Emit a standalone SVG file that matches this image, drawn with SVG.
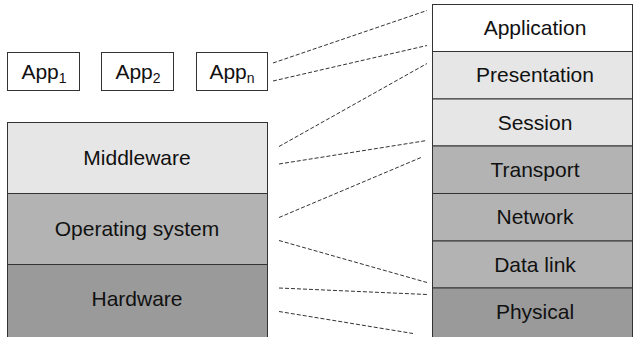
<svg xmlns="http://www.w3.org/2000/svg" width="633" height="337" viewBox="0 0 633 337">
<style>
.box{stroke:#333;stroke-width:1}
.w{fill:#fff}.l{fill:#e6e6e6}.m{fill:#b3b3b3}.d{fill:#9a9a9a}
text{font-family:"Liberation Sans",Arial,sans-serif;font-size:21px;fill:#111;text-anchor:middle}
.sub{font-size:14px}
.dash{stroke:#333;stroke-width:1;stroke-dasharray:4 2;fill:none}
</style>
<rect width="633" height="337" fill="#fff"/>
<g id="app1"><rect class="box w" x="7.5" y="52.5" width="72" height="38"/><text x="44" y="79">App<tspan class="sub" dy="4">1</tspan></text></g>
<g id="app2"><rect class="box w" x="101.5" y="52.5" width="72" height="38"/><text x="138" y="79">App<tspan class="sub" dy="4">2</tspan></text></g>
<g id="appn"><rect class="box w" x="196.5" y="52.5" width="71" height="38"/><text x="232" y="79">App<tspan class="sub" dy="4">n</tspan></text></g>
<g id="middleware"><rect class="box l" x="7.5" y="122.5" width="260" height="71"/><text x="137" y="165">Middleware</text></g>
<g id="os"><rect class="box m" x="7.5" y="193.5" width="260" height="71"/><text x="137" y="236">Operating system</text></g>
<g id="hardware"><rect class="box d" x="7.5" y="264.5" width="260" height="80"/><text x="137" y="306">Hardware</text></g>
<g id="application"><rect class="box w" x="432.5" y="4.5" width="200" height="47"/><text x="535" y="35">Application</text></g>
<g id="presentation"><rect class="box l" x="432.5" y="51.5" width="200" height="47.5"/><text x="535" y="82">Presentation</text></g>
<g id="session"><rect class="box l" x="432.5" y="99" width="200" height="47"/><text x="535" y="130">Session</text></g>
<g id="transport"><rect class="box m" x="432.5" y="146" width="200" height="47.5"/><text x="535" y="177">Transport</text></g>
<g id="network"><rect class="box m" x="432.5" y="193.5" width="200" height="47.5"/><text x="535" y="224">Network</text></g>
<g id="datalink"><rect class="box m" x="432.5" y="241" width="200" height="47"/><text x="535" y="272">Data link</text></g>
<g id="physical"><rect class="box d" x="432.5" y="288" width="200" height="55"/><text x="535" y="319">Physical</text></g>
<g id="connectors">
<line class="dash" x1="273" y1="63" x2="427" y2="10.5"/>
<line class="dash" x1="273" y1="81" x2="427" y2="45.5"/>
<line class="dash" x1="279" y1="146.5" x2="427" y2="63.5"/>
<line class="dash" x1="279" y1="164" x2="427" y2="140.5"/>
<line class="dash" x1="279" y1="217.5" x2="421" y2="157.5"/>
<line class="dash" x1="279" y1="240.5" x2="427" y2="282.5"/>
<line class="dash" x1="279" y1="288" x2="427" y2="294.5"/>
<line class="dash" x1="279" y1="311.5" x2="413" y2="333.5"/>
</g>
</svg>
